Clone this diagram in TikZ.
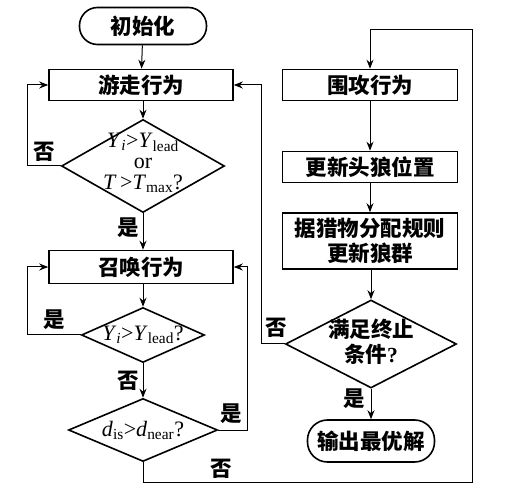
\documentclass[tikz,border=0pt]{standalone}
\usepackage{fontspec}
\setmainfont{Liberation Serif}
\newfontfamily\cjk{Noto Sans CJK SC}
\usetikzlibrary{shapes.geometric}
\usetikzlibrary{arrows.meta}

\newcommand{\vY}{\textit{Y}}
\newcommand{\sub}[1]{\textsubscript{#1}}

\begin{document}
\begin{tikzpicture}[x=1pt,y=-1pt,
		font=\fontsize{21.5}{25}\selectfont\cjk\bfseries,
		box/.style={draw,rectangle,line width=1.6pt,inner sep=0pt,minimum width=184pt},
		term/.style={draw,rectangle,line width=1.6pt,inner sep=0pt,rounded corners=18pt},
		dia/.style={draw,diamond,line width=1.6pt,inner sep=0pt},
		formula/.style={font=\fontsize{22}{21}\selectfont\rmfamily},
		wire/.style={line width=1pt},
		conn/.style={line width=1pt,-{Stealth[length=9pt,width=7pt]}}]
			\useasboundingbox (0,0) rectangle (507,500);
			% left column
			\node[term,minimum width=127pt,minimum height=37pt] (init) at (143,26) {初始化};
			\node[box,minimum height=31pt] (walk) at (141,85) {游走行为};
			\node[dia,minimum width=163pt,minimum height=93pt] (d1) at (143,166) {};
			\node[formula,align=center] (t1) at (143,163)
				{\vY\sub{\textit{i}}>\vY\sub{lead}\\or\\\textit{T}\,>\textit{T}\sub{max}?};
			\node[box,minimum height=33pt] (call) at (141,267) {召唤行为};
			\node[dia,minimum width=123pt,minimum height=55pt] (d2) at (143,335) {};
			\node[formula] (t2) at (143,335) {\vY\sub{\textit{i}}>\vY\sub{lead}?};
			\node[dia,minimum width=149pt,minimum height=63pt] (d3) at (143,430) {};
			\node[formula] (t3) at (143,430) {\textit{d}\sub{is}>\textit{d}\sub{near}?};

			% right column
			\node[box,minimum width=175pt,minimum height=31pt] (attack) at (370,85) {围攻行为};
			\node[box,minimum width=175pt,minimum height=31pt] (upd) at (370,167) {更新头狼位置};
			\node[box,minimum width=175pt,minimum height=56pt,align=center] (rule) at (370,241) {据猎物分配规则\\更新狼群};
			\node[dia,minimum width=171pt,minimum height=88pt] (d4) at (371,344) {};
			\node[align=center] (t4) at (371,342) {满足终止\\条件{\rmfamily ?}};
			\node[term,minimum width=127pt,minimum height=42pt,rounded corners=20pt] (out) at (371,441) {输出最优解};

			\coordinate (lx) at (27,0);
			\coordinate (rx) at (247,0);
			\coordinate (mx) at (261,0);
			\coordinate (br) at (472,482);
			\coordinate (tr) at (472,30);

			\draw[conn] (init) -- (walk);
			\draw[conn] (walk.south -| d1) -- (d1.north);
			\draw[conn] (d1.west) -- (d1.west -| lx) |- (walk.west);
			\draw[conn] (d1.south) -- (call.north -| d1);
			\draw[conn] (call.south -| d2) -- (d2.north);
			\draw[conn] (d2.west) -- (d2.west -| lx) |- (call.west);
			\draw[conn] (d2.south) -- (d3.north);
			\draw[conn] (d3.east) -- (d3.east -| rx) |- (call.east);
			\draw[conn] (d3.south) |- (br) -- (tr) -| (attack.north);
			\draw[conn] (attack) -- (upd);
			\draw[conn] (upd) -- (rule);
			\draw[conn] (rule.south -| d4) -- (d4.north);
			\draw[conn] (d4.south) -- (out.north);
			\draw[conn] (d4.west) -- (d4.west -| mx) |- (walk.east);

			% labels
			\node (n1) at (44,152) {否};
			\node (y1) at (128,228) {是};
			\node (y2) at (54,320) {是};
			\node (n2) at (128,381) {否};
			\node (y3) at (231,414) {是};
			\node (n3) at (221,469) {否};
			\node (n4) at (276,328) {否};
			\node (y4) at (354,399) {是};
		\end{tikzpicture}
\end{document}
